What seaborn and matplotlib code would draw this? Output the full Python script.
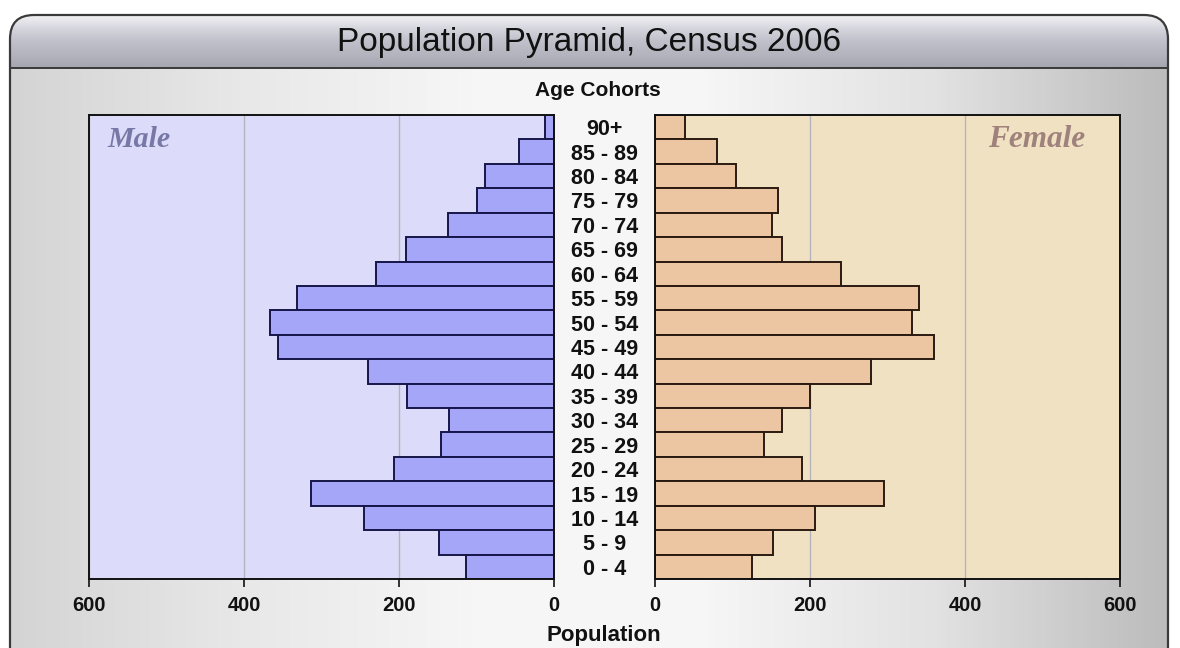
# Pirâmide etária - Censo 2006
import numpy as np
import pandas as pd
import matplotlib
matplotlib.use('Agg')
import matplotlib.pyplot as plt
import seaborn as sns
from matplotlib.patches import FancyBboxPatch
from matplotlib.colors import LinearSegmentedColormap

# ---------------- DADOS ----------------
age_groups = ['90+', '85 - 89', '80 - 84', '75 - 79', '70 - 74', '65 - 69',
              '60 - 64', '55 - 59', '50 - 54', '45 - 49', '40 - 44', '35 - 39',
              '30 - 34', '25 - 29', '20 - 24', '15 - 19', '10 - 14', '5 - 9', '0 - 4']
male = [11, 45, 89, 100, 137, 191, 230, 332, 366, 356, 240, 190, 135, 146,
        206, 314, 245, 148, 114]
female = [39, 80, 104, 159, 151, 164, 240, 340, 332, 360, 279, 200, 164, 140,
          190, 295, 206, 152, 125]
x_ticks = [0, 200, 400, 600]

df = pd.DataFrame({'idade': age_groups, 'homens': male, 'mulheres': female})

sns.set_style('white')
plt.rcParams['font.family'] = ['Liberation Sans', 'DejaVu Sans']

# ---------------- FIGURA ----------------
fig = plt.figure(figsize=(11.8, 6.48), dpi=100)
fig.patch.set_facecolor('white')

# fundo com moldura arredondada e gradientes
bg = fig.add_axes([0, 0, 1, 1])
bg.set_xlim(0, 1180)
bg.set_ylim(648, 0)
bg.axis('off')

frame = FancyBboxPatch((10, 15), 1158, 700, boxstyle='round,pad=0,rounding_size=24',
                       facecolor='none', edgecolor='#3a3a3a', linewidth=1.6, zorder=5)
bg.add_patch(frame)

body_cmap = LinearSegmentedColormap.from_list(
    'body', ['#d4d4d4', '#e8e8e8', '#f6f6f6', '#f6f6f6', '#e2e2e2', '#bcbcbc'])
body = bg.imshow(np.linspace(0, 1, 256)[None, :], cmap=body_cmap, aspect='auto',
                 extent=(10, 1168, 700, 68), zorder=1)
body.set_clip_path(frame)

title_cmap = LinearSegmentedColormap.from_list(
    'title', ['#f2f2f4', '#d6d6de', '#c0c0ca', '#b4b4be', '#a6a6b0'])
tbar = bg.imshow(np.linspace(0, 1, 256)[:, None], cmap=title_cmap, aspect='auto',
                 extent=(10, 1168, 68, 15), zorder=2)
tbar.set_clip_path(frame)
bg.plot([10, 1168], [68, 68], color='#3a3a3a', lw=1.4, zorder=4)

bg.text(589, 42, 'Population Pyramid, Census 2006', ha='center', va='center',
        fontsize=24, color='#111111', zorder=6)
bg.text(598, 90, 'Age Cohorts', ha='center', va='center', fontsize=15,
        fontweight='bold', color='#111111', zorder=6)
bg.text(604, 635, 'Population', ha='center', va='center', fontsize=16,
        fontweight='bold', color='#111111', zorder=6)

# ---------------- HOMENS ----------------
axL = fig.add_axes([89 / 1180, 1 - 579 / 648, 465 / 1180, 464 / 648])
axL.set_facecolor('#dcdcfa')
sns.barplot(data=df, x='homens', y='idade', orient='h', ax=axL, color='#a6a6f8',
            edgecolor='#16164a', linewidth=1.4, width=1.0, saturation=1)
axL.set_xlim(600, 0)
axL.set_ylim(len(age_groups) - 0.5, -0.5)
axL.set_yticks([])
axL.set_ylabel('')
axL.set_xlabel('')
axL.text(0.04, 0.948, 'Male', transform=axL.transAxes, ha='left', va='center',
         fontsize=21.5, style='italic', fontweight='bold', color='#7878a6',
         family=['Liberation Serif', 'DejaVu Serif'])

# ---------------- MULHERES ----------------
axR = fig.add_axes([655 / 1180, 1 - 579 / 648, 465 / 1180, 464 / 648])
axR.set_facecolor('#f1e1c3')
sns.barplot(data=df, x='mulheres', y='idade', orient='h', ax=axR, color='#ecc6a2',
            edgecolor='#2a1a10', linewidth=1.4, width=1.0, saturation=1)
axR.set_xlim(0, 600)
axR.set_ylim(len(age_groups) - 0.5, -0.5)
axR.set_ylabel('')
axR.set_xlabel('')
# rótulos das faixas etárias centralizados entre os dois painéis (pad em pontos)
axR.tick_params(axis='y', length=0, pad=36.5)
for lab in axR.get_yticklabels():
    lab.set_horizontalalignment('center')
    lab.set_fontweight('bold')
    lab.set_fontsize(15.5)
    lab.set_color('#111111')
axR.text(0.925, 0.948, 'Female', transform=axR.transAxes, ha='right', va='center',
         fontsize=22.5, style='italic', fontweight='bold', color='#a0827c',
         family=['Liberation Serif', 'DejaVu Serif'])

# ---------------- EIXOS COMUNS ----------------
for ax in (axL, axR):
    ax.set_xticks(x_ticks)
    ax.set_xticklabels([str(v) for v in x_ticks], fontweight='bold', fontsize=14.5,
                       color='#111111')
    ax.tick_params(axis='x', length=6, width=1.2, color='#111111', pad=6, bottom=True)
    ax.grid(axis='x', color='#b4b4bc', linewidth=1)
    ax.set_axisbelow(True)
    for sp in ax.spines.values():
        sp.set_visible(True)
        sp.set_color('#111111')
        sp.set_linewidth(1.4)
    ax.set_zorder(3)

fig.savefig('out.png', dpi=100)
